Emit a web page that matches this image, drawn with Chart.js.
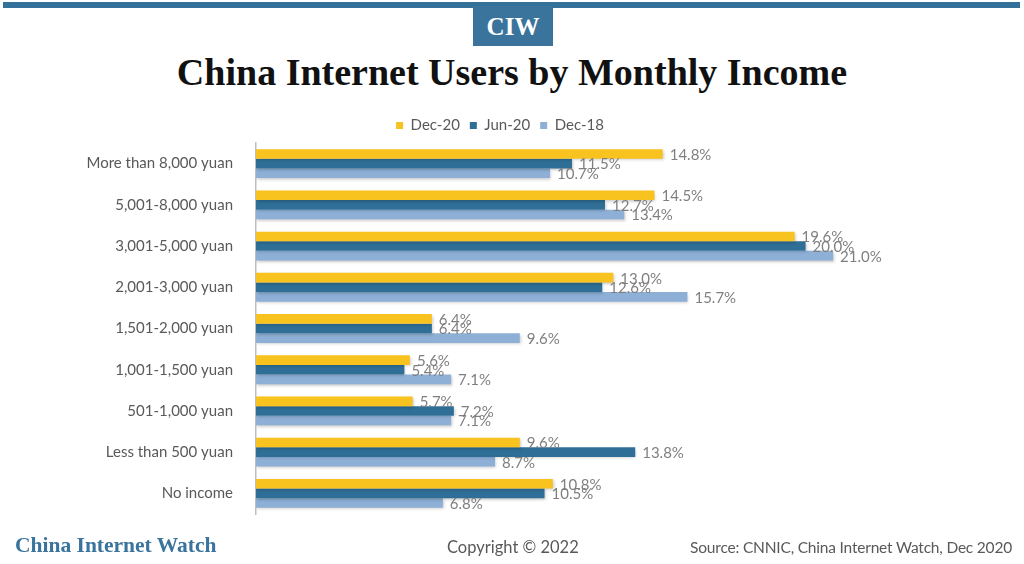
<!DOCTYPE html>
<html>
<head>
<meta charset="utf-8">
<script src="https://cdn.jsdelivr.net/npm/chart.js@4"></script>
<style>
  body { margin: 0; background: #fff; width: 1024px; height: 564px; overflow: hidden; position: relative; font-family: Lato, sans-serif; }
  #topbar { position: absolute; left: 3px; top: 2px; width: 1017px; height: 6px; background: #33709a; }
  #ciw { position: absolute; left: 473px; top: 6px; width: 80px; height: 40px; background: #3a739c; color: #fff;
         font: bold 25px "Liberation Serif", serif; text-align: center; line-height: 42px; }
  #title { position: absolute; left: 0; top: 50px; width: 1024px; text-align: center; color: #111;
           font: bold 38px "Liberation Serif", serif; }
  #brand { position: absolute; left: 15px; top: 533px; color: #3a739c; font: bold 21.5px "Liberation Serif", serif; }
  #copy { position: absolute; left: 447px; top: 537px; color: #595959; font-size: 16.5px; }
  #source { position: absolute; right: 12px; top: 538px; color: #595959; font-size: 15.5px; letter-spacing: -0.2px; }
  #chart { position: absolute; left: 0; top: 108px; }
</style>
</head>
<body>
<div id="topbar"></div>
<div id="ciw">CIW</div>
<div id="title">China Internet Users by Monthly Income</div>
<canvas id="chart" width="1000" height="430"></canvas>
<div id="brand">China Internet Watch</div>
<div id="copy">Copyright © 2022</div>
<div id="source">Source: CNNIC, China Internet Watch, Dec 2020</div>
<script>
const categories = [
  "More than 8,000 yuan",
  "5,001-8,000 yuan",
  "3,001-5,000 yuan",
  "2,001-3,000 yuan",
  "1,501-2,000 yuan",
  "1,001-1,500 yuan",
  "501-1,000 yuan",
  "Less than 500 yuan",
  "No income"
];
const dec20 = [14.8, 14.5, 19.6, 13.0, 6.4, 5.6, 5.7, 9.6, 10.8];
const jun20 = [11.5, 12.7, 20.0, 12.6, 6.4, 5.4, 7.2, 13.8, 10.5];
const dec18 = [10.7, 13.4, 21.0, 15.7, 9.6, 7.1, 7.1, 8.7, 6.8];

// soft shadow under bars + value labels at the end of each bar
const barLabels = {
  id: 'barLabels',
  beforeDatasetsDraw(chart) {
    const ctx = chart.ctx;
    ctx.save();
    ctx.shadowColor = 'rgba(0,0,0,0.22)';
    ctx.shadowBlur = 3;
    ctx.shadowOffsetX = 1;
    ctx.shadowOffsetY = 1.5;
  },
  afterDatasetsDraw(chart) {
    const ctx = chart.ctx;
    ctx.restore();
    ctx.save();
    ctx.font = '15px Lato';
    ctx.fillStyle = '#7f7f7f';
    ctx.textBaseline = 'middle';
    chart.data.datasets.forEach((ds, i) => {
      chart.getDatasetMeta(i).data.forEach((bar, j) => {
        ctx.fillText(ds.data[j].toFixed(1) + '%', bar.x + 7, bar.y + 1);
      });
    });
    ctx.restore();
  }
};

function draw() {
  new Chart(document.getElementById('chart'), {
    type: 'bar',
    data: {
      labels: categories,
      datasets: [
        { label: 'Dec-20', data: dec20, backgroundColor: '#f8c21f' },
        { label: 'Jun-20', data: jun20, backgroundColor: '#2f6f97' },
        { label: 'Dec-18', data: dec18, backgroundColor: '#8eb0d7' }
      ]
    },
    options: {
      indexAxis: 'y',
      responsive: false,
      animation: false,
      categoryPercentage: 0.7,
      barPercentage: 1.0,
      layout: { padding: { left: 57, right: 57, top: 0, bottom: 0 } },
      scales: {
        x: { display: false, min: 0, max: 25 },
        y: {
          afterFit(scale) { scale.width = 199; },
          grid: { display: false },
          border: { display: true, color: '#bfbfbf', width: 1.5 },
          ticks: { color: '#595959', font: { family: 'Lato', size: 15 }, padding: 15 }
        }
      },
      plugins: {
        legend: {
          position: 'top',
          labels: {
            boxWidth: 7, boxHeight: 7, color: '#595959',
            font: { family: 'Lato', size: 15 }, padding: 10
          }
        },
        tooltip: { enabled: false }
      }
    },
    plugins: [barLabels]
  });
}

document.fonts.load('15px Lato').then(draw, draw);
</script>
</body>
</html>
